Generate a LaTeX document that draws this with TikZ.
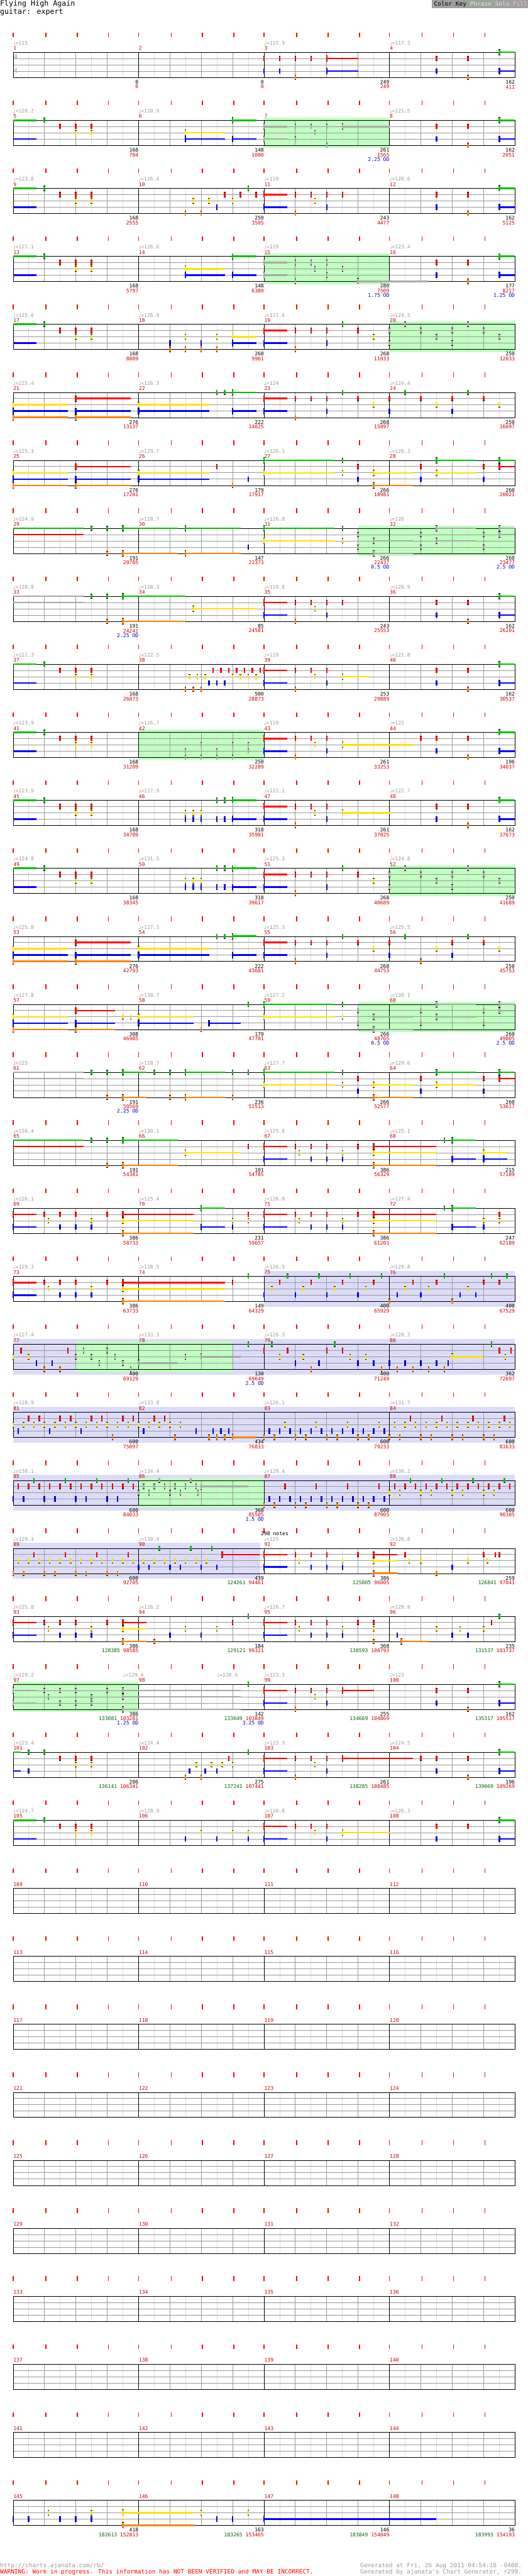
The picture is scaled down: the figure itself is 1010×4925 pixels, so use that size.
\documentclass[tikz,border=0pt]{standalone}
\usepackage{fontspec}
\newfontfamily\mono{DejaVu Sans Mono}
\newfontfamily\sym{DejaVu Sans}
\definecolor{lc0}{HTML}{00C000}
\definecolor{lc1}{HTML}{FF0000}
\definecolor{lc2}{HTML}{FFE000}
\definecolor{lc3}{HTML}{0000FF}
\definecolor{lc4}{HTML}{FF8000}
\definecolor{gn}{HTML}{A8A8A8}
\definecolor{mred}{HTML}{CC0000}
\definecolor{tgrey}{HTML}{999999}
\definecolor{odblue}{HTML}{0000CC}
\definecolor{dg}{HTML}{006600}
\definecolor{gl}{HTML}{DDDDDD}
\definecolor{gd}{HTML}{999999}
\definecolor{phr}{HTML}{C0FFC0}
\definecolor{solo}{HTML}{DCDCFA}
\definecolor{fillc}{HTML}{FFC0C0}
\definecolor{keybg}{HTML}{A0A0A0}
\newcommand\lab{\mono\fontsize{9.7}{10}\selectfont}
\tikzset{
 mn/.style={anchor=west, inner sep=0, text=mred, font=\lab},
 tp/.style={anchor=west, inner sep=0, text=tgrey, font=\lab},
 bn/.style={anchor=east, inner sep=0, text=black, font=\lab},
 rn/.style={anchor=east, inner sep=0, text=mred, font=\lab},
 odlab/.style={anchor=east, inner sep=0, text=odblue, font=\lab},
 gridlt/.style={draw=gl, line width=1},
 griddk/.style={draw=gd, line width=1},
 btick/.style={draw=red, line width=2},
 rowat/.style={shift={(25,{100+130*(#1)})}},
}
\newcommand\Nc[1]{lc#1}
\newcommand\Ncg[1]{gn}
\newcommand\Nh[2]{\edef\cc{\Nc{#2}}%
 \fill[black] ({60*(#1)-1.5},{12*(#2)-5}) rectangle ({60*(#1)+1.5},{12*(#2)+5});
 \fill[fill=\cc] ({60*(#1)-1.5},{12*(#2)-4}) rectangle ({60*(#1)+1.5},{12*(#2)+4});}
\newcommand\Sh[3]{\edef\cc{\Nc{#2}}%
 \fill[fill=\cc] ({60*(#1)},{12*(#2)-1.5}) rectangle ({60*(#3)},{12*(#2)+1.5});
 \fill[black] ({60*(#1)-1.5},{12*(#2)-6}) rectangle ({60*(#1)+1.5},{12*(#2)+6});
 \fill[fill=\cc] ({60*(#1)-1.5},{12*(#2)-5}) rectangle ({60*(#1)+1.5},{12*(#2)+5});}
\newcommand\Th[3]{\edef\cc{\Nc{#2}}%
 \fill[fill=\cc] ({60*(#1)},{12*(#2)-1.5}) rectangle ({60*(#3)},{12*(#2)+1.5});}
\newcommand\Nt[1]{\foreach \b/\l in {#1}{\Nh{\b}{\l}}}
\newcommand\St[1]{\foreach \b/\l/\e in {#1}{\Sh{\b}{\l}{\e}}}
\newcommand\Tl[1]{\foreach \b/\l/\e in {#1}{\Th{\b}{\l}{\e}}}
\newcommand\Gy[1]{{\let\Nc\Ncg #1}}
\newcommand\Phr[2]{\fill[phr] ({60*(#1)},-5) rectangle ({60*(#2)},53);}
\newcommand\Solo[2]{\fill[solo] ({60*(#1)},-10) rectangle ({60*(#2)},58);}
\newcommand\Gn[1]{\textcolor{dg}{#1}}
\newcommand\Grid{%
 \foreach \i in {1,3,...,31} \draw[gridlt] ({30*\i},0) -- ({30*\i},48);
 \foreach \i in {1,2,3,5,6,7,9,10,11,13,14,15} \draw[griddk] ({60*\i},0) -- ({60*\i},48);
 \foreach \l in {1,2,3} \draw[griddk] (0,{12*\l}) -- (960,{12*\l});
 \foreach \m in {1,2,3} \draw[black] ({240*\m},0) -- ({240*\m},48);
 \draw[black] (0,0) rectangle (960,48);
 \foreach \m in {0,...,3}{\foreach \o in {0,62.5,122.5,182.5}{\draw[btick] ({240*\m+\o},-38) -- ({240*\m+\o},-29);}}}
\newcommand\Mz[5]{%
 \node[mn] at ({240*(#1)+0.5},-7.5) {#2};
 \if\relax\detokenize{#3}\relax\else\node[tp] at ({240*(#1)},-17.5) {{\sym ♩}=#3};\fi
 \node[bn] at ({240*(#1)+240},57) {#4};
 \node[rn] at ({240*(#1)+240},66) {#5};}
\newcommand\Od[2]{\node[odlab] at ({240*(#1)+240},74.5) {#2 OD};}
% patterns
\newcommand\pA[1]{\Tl{#1/0/#1+.75, #1/3/#1+.75}\Nt{#1+1/0, #1+1.5/1, #1+2/1, #1+2.5/1, #1+2/2, #1+2.5/2}}
\newcommand\pB[1]{\St{#1+1.5/2/#1+2.75, #1+1.5/3/#1+2.75, #1+3/0/#1+3.75, #1+3/3/#1+3.75}}
\newcommand\pC[1]{\St{#1/1/#1+.75, #1/3/#1+.75}\Nt{#1+1/1, #1+1.5/1, #1+2/1, #1+2.5/1, #1+1.625/2, #1+2/3, #1+1/4}}
\newcommand\pE[1]{\Nt{#1+1.5/1, #1+2.5/1, #1+1.5/3, #1+2.5/4}\St{#1+3.5/0/#1+4, #1+3.5/3/#1+4}}
\newcommand\pF[1]{\St{#1/1/#1+.75, #1/3/#1+.75}\Nt{#1+1/1, #1+1.5/1, #1+2/1, #1+3/1, #1+2.5/0, #1+3.5/2, #1+2/3, #1+1/4}}
\newcommand\pD[1]{\Nt{#1+.5/0, #1+2.5/0, #1/1, #1+1/1, #1+2/1, #1+3/1, #1+1.5/2, #1+3.5/2, #1/3, #1+2/3}}
\newcommand\pH[1]{\St{#1/2/#1+1.75, #1/3/#1+1.75, #1/4/#1+1.75, #1+2/1/#1+3.75, #1+2/3/#1+3.75, #1+2/4/#1+3.75}}
\newcommand\pI[1]{\St{#1/2/#1+2.25, #1/3/#1+2.25, #1+3/0/#1+3.75, #1+3/3/#1+3.75}\Nt{#1+2.5/0, #1+2.75/0}}
\newcommand\pK[1]{\Nt{#1/1, #1/3, #1+2/1, #1+2/3, #1+4/1, #1+4/3}\St{#1+.5/2/#1+1.75, #1+.5/4/#1+1.75, #1+2.5/0/#1+3.75, #1+2.5/2/#1+3.75, #1+4.5/0/#1+5, #1+4.5/1/#1+5}}
\newcommand\pJ[1]{\St{#1/0/#1+2.25, #1/2/#1+2.25}\Nt{#1+2.5/0, #1+2.5/2}\pK{#1+3}}
\newcommand\pL[1]{\Nt{#1+1.5/2, #1+1.75/2, #1+2/2, #1+1.5/3, #1+1.75/3, #1+2/3, #1+2.5/3, #1+2.75/3, #1+2.5/0, #1+2.75/0}\St{#1+3/0/#1+3.75, #1+3/3/#1+3.75}}
\newcommand\pM[1]{\St{#1/1/#1+.75, #1/3/#1+.75}\Nt{#1+1/1, #1+1.5/1, #1+2/1, #1+3/1, #1+1.125/2, #1+2.5/2, #1+1.5/3, #1+2/3, #1+2.5/3}}
\begin{document}
\begin{tikzpicture}[x=1pt,y=-1pt]
\useasboundingbox (0,0) rectangle (1010,4925);
\fill[white] (0,0) rectangle (1010,4925);
% header
\node[anchor=west, inner sep=0, font=\mono\fontsize{14}{14}\selectfont] (title) at (0,8) {Flying High Again};
\node[anchor=west, inner sep=0, font=\mono\fontsize{14}{14}\selectfont] (inst) at (0,23) {guitar: expert};
\fill[keybg] (826,0) rectangle (1010,16);
\node[anchor=east, inner sep=0, font=\mono\fontsize{11.4}{12}\selectfont] (key) at (1009,8) {Color Key \textcolor{phr}{Phrase} \textcolor{solo}{Solo} \textcolor{fillc}{Fill}};
% row 0
\begin{scope}[rowat=0]
\Grid
\node[inner sep=0, text=tgrey, font=\mono\fontsize{13}{13}\selectfont] (ts1) at (5,9) {4};
\node[inner sep=0, text=tgrey, font=\mono\fontsize{13}{13}\selectfont] (ts2) at (5,35) {4};
\St{10/1/11, 10/3/11, 15.5/0/16, 15.5/3/16}
\Nt{8/1, 8.5/1, 9/1, 9.5/1, 8/3, 8.5/3, 9/4, 13.5/1, 14.5/1, 13.5/3, 14.5/4}
\Mz{0}{1}{115}{0}{0}\Mz{1}{2}{}{0}{0}\Mz{2}{3}{115.9}{249}{249}\Mz{3}{4}{117.3}{162}{411}
\end{scope}
% row 1
\begin{scope}[rowat=1]
\Phr{8}{12}\Grid
\pA{0}\pB{4}
\Gy{\St{8/1/8.75, 8/3/8.75, 10.5/1/12}\Nt{9/1, 9.5/1, 10/1, 9.625/2, 9/3, 10/4}}
\pE{12}
\Mz{0}{5}{120.2}{168}{704}\Mz{1}{6}{120.9}{148}{1000}\Mz{2}{7}{}{261}{1565}\Mz{3}{8}{121.5}{162}{2051}\Od{2}{2.25}
\end{scope}
% row 2
\begin{scope}[rowat=2]
\Grid
\pA{0}
\Nt{5.5/4, 6/4, 5.75/2, 6.25/2, 7/2, 6.75/1, 7.25/1, 7.75/1, 6.5/3, 7.5/0}
\pC{8}\pE{12}
\Mz{0}{9}{123.8}{168}{2555}\Mz{1}{10}{126.4}{250}{3505}\Mz{2}{11}{119}{243}{4477}\Mz{3}{12}{120.6}{162}{5125}
\end{scope}
% row 3
\begin{scope}[rowat=3]
\Phr{8}{12}\Grid
\pA{0}\pB{4}
\Gy{\St{8/1/8.75, 8/3/8.75, 11/4/13.25}\Nt{9/1, 9.5/1, 10/1, 9.625/2, 10.5/2, 10/3, 9/4}}
\pE{12}
\Mz{0}{13}{121.1}{168}{5797}\Mz{1}{14}{126.6}{148}{6389}\Mz{2}{15}{119}{280}{7509}\Mz{3}{16}{123.4}{177}{8217}\Od{2}{1.75}\Od{3}{1.25}
\end{scope}
% row 4
\begin{scope}[rowat=4]
\Phr{12}{16}\Grid
\pA{0}
\Nt{5/3, 6/3, 5/4, 5.5/4, 6/4, 6.5/4, 5.5/2, 6.5/2}\St{7/2/7.75, 7/3/7.75}
\pF{8}\Gy{\pD{12}}
\Mz{0}{17}{125.6}{168}{8889}\Mz{1}{18}{126.9}{268}{9961}\Mz{2}{19}{121.6}{268}{11033}\Mz{3}{20}{124.5}{250}{12033}
\end{scope}
% row 5
\begin{scope}[rowat=5]
\Grid
\pH{0}\pI{4}\pF{8}\pD{12}
\Mz{0}{21}{125.4}{276}{13137}\Mz{1}{22}{126.3}{222}{14025}\Mz{2}{23}{124}{268}{15097}\Mz{3}{24}{124.4}{250}{16097}
\end{scope}
% row 6
\begin{scope}[rowat=6]
\Grid
\pH{0}\St{4/2/6.25, 4/3/6.25}\Nt{6.5/1, 7/4, 7.5/3}\pJ{8}
\Mz{0}{25}{125.3}{276}{17201}\Mz{1}{26}{129.7}{179}{17917}\Mz{2}{27}{126.1}{266}{18981}\Mz{3}{28}{126.3}{260}{20021}
\end{scope}
% row 7
\begin{scope}[rowat=7]
\Phr{11}{16}\Grid
\Tl{0/0/2.25, 0/1/2.25}\Nt{2.5/0, 3/0, 3/4}\St{3.5/0/5.25, 3.5/4/5.25}
\St{5.5/0/7.25, 5.5/4/7.25}\Nt{7.5/3}
\St{8/0/10.25, 8/2/10.25}\Nt{10.5/0, 10.5/2}\Gy{\pK{11}}
\Mz{0}{29}{124.9}{191}{20785}\Mz{1}{30}{128.7}{147}{21373}\Mz{2}{31}{126.8}{266}{22437}\Mz{3}{32}{126}{260}{23477}\Od{2}{0.5}\Od{3}{2.5}
\end{scope}
% row 8
\begin{scope}[rowat=8]
\Grid
\Gy{\Tl{0/0/2.25, 0/1/2.25}}\Nt{2.5/0, 3/0, 3/4}\St{3.5/0/5.5, 3.5/4/5.5}
\St{5.75/2/7.75}\pC{8}\pE{12}
\Mz{0}{33}{128.8}{191}{24241}\Mz{1}{34}{128.3}{85}{24581}\Mz{2}{35}{119.8}{243}{25553}\Mz{3}{36}{120.9}{162}{26201}\Od{0}{2.25}
\end{scope}
% row 9
\begin{scope}[rowat=9]
\Grid
\pA{0}
\Nt{5.5/4, 5.75/4, 6/4, 5.625/2, 5.875/2, 6.125/2, 6.25/3, 6.5/3, 6.75/3, 6.375/1, 6.625/1, 6.875/1, 7.125/1, 7.375/1, 7.625/1, 7.875/1, 7/2, 7.25/2, 7.5/2, 7.75/2}
\St{8/1/8.75, 8/3/8.75, 10.5/2/11.375}\Nt{9/1, 9.5/1, 10/1, 9.625/2, 10/3, 9/4}
\pE{12}
\Mz{0}{37}{122.3}{168}{26873}\Mz{1}{38}{122.5}{500}{28873}\Mz{2}{39}{119}{253}{29889}\Mz{3}{40}{121.8}{162}{30537}
\end{scope}
% row 10
\begin{scope}[rowat=10]
\Phr{4}{8}\Grid
\pA{0}
\Gy{\Nt{6/2, 7/2, 7.5/2, 5.5/3, 6.5/3, 7.5/3, 5.5/4, 6/4, 6.5/4, 7/4}}
\St{8/1/8.75, 8/3/8.75, 10.5/2/12.75}\Nt{9/1, 9.5/1, 10/1, 9.625/2, 10/3, 9/4}
\Nt{13/1, 13.5/1, 14.5/1, 13.5/3, 14.5/4}\St{15.5/0/16, 15.5/3/16}
\Mz{0}{41}{123.9}{168}{31209}\Mz{1}{42}{126.7}{250}{32209}\Mz{2}{43}{119}{261}{33253}\Mz{3}{44}{122}{196}{34037}
\end{scope}
% row 11
\begin{scope}[rowat=11]
\Grid
\pA{0}\pL{4}
\St{8/1/8.75, 8/3/8.75, 10.5/2/12}\Nt{9/1, 9.5/1, 10/1, 9.625/2, 10/3, 9/4}
\pE{12}
\Mz{0}{45}{123.9}{168}{34709}\Mz{1}{46}{127.9}{318}{35981}\Mz{2}{47}{122.1}{261}{37025}\Mz{3}{48}{122.7}{162}{37673}
\end{scope}
% row 12
\begin{scope}[rowat=12]
\Phr{12}{16}\Grid
\pA{0}\pL{4}\pF{8}\Gy{\pD{12}}
\Mz{0}{49}{124.8}{168}{38345}\Mz{1}{50}{131.5}{318}{39617}\Mz{2}{51}{125.3}{268}{40689}\Mz{3}{52}{124.8}{250}{41689}
\end{scope}
% row 13
\begin{scope}[rowat=13]
\Grid
\pH{0}\pI{4}\pF{8}
\Nt{12.5/0, 14.5/0, 12/1, 14/1, 15/1, 13.5/2, 15.5/2, 12/3, 14/3, 13/4}
\Mz{0}{53}{125.8}{276}{42793}\Mz{1}{54}{127.1}{222}{43681}\Mz{2}{55}{125.3}{268}{44753}\Mz{3}{56}{125.5}{250}{45753}
\end{scope}
% row 14
\begin{scope}[rowat=14]
\Phr{11}{16}\Grid
\St{0/2/1.75, 0/3/1.75, 0/4/1.75, 2/1/3.25, 2/3/3.25, 2/4/3.25}\Nt{3.5/2, 3.75/2}
\St{4/2/5.75, 4/3/5.75, 6.25/3/7.25}\Nt{6/4, 7.5/0}
\St{8/0/10.25, 8/2/10.25}\Nt{10.5/0, 10.5/2}\Gy{\pK{11}}
\Mz{0}{57}{127.8}{308}{46985}\Mz{1}{58}{130.7}{179}{47701}\Mz{2}{59}{127.2}{266}{48765}\Mz{3}{60}{130.1}{260}{49805}\Od{2}{0.5}\Od{3}{2.5}
\end{scope}
% row 15
\begin{scope}[rowat=15]
\Grid
\Gy{\Tl{0/0/2.25, 0/1/2.25}}
\Nt{2.5/0, 3/0, 3/4, 4.5/0, 5/0, 5/4, 7/0, 7/4, 7.5/0}\St{3.5/0/4.25, 3.5/4/4.25, 5.5/0/6.75, 5.5/4/6.75}
\pJ{8}
\Mz{0}{61}{125}{191}{50569}\Mz{1}{62}{128.7}{236}{51513}\Mz{2}{63}{127.7}{266}{52577}\Mz{3}{64}{129.6}{260}{53617}\Od{0}{2.25}
\end{scope}
% row 16
\begin{scope}[rowat=16]
\Grid
\Tl{0/0/2.25, 0/1/2.25}\Nt{2.5/0, 3/0, 3/4}\St{3.5/0/5.25, 3.5/4/5.25}
\St{5.5/2/7.25}
\St{8/1/8.75, 8/3/8.75}\Nt{7.5/1, 9/1, 9.125/2, 9.5/1, 9.5/3, 10/1, 10/3, 10.5/2, 10.5/3, 11/1}
\St{11.5/1/13.5, 11.5/2/13.5, 11.5/4/13.5, 14/0/14.75, 14/3/14.75, 15/2/15.75, 15/3/15.75}\Nt{13.75/0}
\Mz{0}{65}{130.4}{191}{54381}\Mz{1}{66}{130.1}{101}{54785}\Mz{2}{67}{125.8}{386}{56329}\Mz{3}{68}{125.1}{215}{57189}
\end{scope}
% row 17
\begin{scope}[rowat=17]
\Grid
\pM{0}\St{3.5/1/5.75, 3.5/2/5.75, 3.5/4/5.75}
\St{6/0/6.75, 6/3/6.75}\Nt{7/2, 7/3, 7.5/1, 7.5/2}
\St{8/1/8.75, 8/3/8.75}\Nt{9/1, 9.5/1, 10/1, 11/1, 9.125/2, 10.5/2, 9.5/3, 10/3, 10.5/3}
\St{11.5/1/13.5, 11.5/2/13.5, 11.5/4/13.5, 14/0/14.75, 14/3/14.75}\Nt{13.75/0, 15/2, 15/3, 15.5/1, 15.5/2}
\Mz{0}{69}{126.1}{386}{58733}\Mz{1}{70}{125.4}{231}{59657}\Mz{2}{71}{126.8}{386}{61201}\Mz{3}{72}{127.4}{247}{62189}
\end{scope}
% row 18
\begin{scope}[rowat=18]
\Solo{8}{16}\Grid
\pM{0}\St{3.5/1/6.75, 3.5/2/6.75, 3.5/4/6.75}\Nt{7/1, 7.5/0}
\foreach \k in {0,...,3}{\Nt{8+\k/3, 8.25+\k/2, 8.5+\k/1, 8.75+\k/0}}
\Nt{12/4, 12.25/3, 12.5/2, 12.75/1, 13/3, 13.25/2, 13.5/1, 13.75/0, 14/4, 14.25/3, 14.5/2, 14.75/3, 15/1, 15.25/0, 15.5/1, 15.75/0}
\Mz{0}{73}{129.3}{386}{63733}\Mz{1}{74}{128.5}{149}{64329}\Mz{2}{75}{126.9}{400}{65929}\Mz{3}{76}{129.8}{400}{67529}
\end{scope}
% row 19
\begin{scope}[rowat=19]
\Solo{0}{16}\Phr{2}{7}\Grid
\Nt{0/2, 0.5/2, 0.25/1, 1.75/1, 0.75/3, 1.25/3, 1/4, 1.5/4}
\Gy{\Nt{2.25/1, 3/1, 2/2, 2.5/2, 3.25/2, 2.75/3, 3.5/3, 3.75/4, 5.5/2}\St{4/3/5.25, 6/2/7.25}}
\Nt{7.5/0}
\Nt{8/1, 8.25/0, 8.5/2, 8.75/1, 9/3, 9.25/2, 9.5/4, 9.75/3, 10/1, 10.25/0, 10.5/1, 10.75/2, 11/3, 11.25/2, 11.5/3, 11.75/4}
\Nt{12/3, 12.5/3, 13/3, 13.5/3, 13.875/3, 12.25/4, 12.75/4, 13.25/4, 13.75/4, 15.25/0, 15.5/1, 15.875/1, 15.7/2}\St{14/2/15}
\Mz{0}{77}{127.4}{400}{69129}\Mz{1}{78}{133.3}{130}{69649}\Mz{2}{79}{126.3}{400}{71249}\Mz{3}{80}{128.3}{362}{72697}\Od{1}{2.5}
\end{scope}
% row 20
\begin{scope}[rowat=20]
\Solo{0}{16}\Grid
\foreach \k in {0,...,16}{\Nt{\k*0.333333/2}}
\Nt{0.5/1, 0.8333/1, 1.5/1, 1.8333/1, 2.5/1, 2.8333/1, 3.5/1, 3.8333/1, 4.5/1, 4.8333/1, 0.1667/3, 1.1667/3, 2.1667/3, 4.1667/3, 3.1667/4, 5.1667/4, 5.8333/3, 6.375/3, 6.625/3, 6.875/3, 6.25/4, 6.5/4, 6.75/4}\St{7/4/7.75}
\foreach \j in {0,...,11}{\Nt{8.1667+\j*0.333333/3, 12.1667+\j*0.333333/2}}
\foreach \k in {0,...,3}{\Nt{8.6667+\k/2, 8+\k/4, 8.3333+\k/4, 12.6667+\k/1, 12+\k/4, 12.3333+\k/4}}
\Mz{0}{81}{128.9}{600}{75097}\Mz{1}{82}{133.8}{434}{76833}\Mz{2}{83}{126.1}{600}{79233}\Mz{3}{84}{131.7}{600}{81633}
\end{scope}
% row 21
\begin{scope}[rowat=21]
\Solo{0}{16}\Phr{4}{8}\Grid
\foreach \k in {0,...,3}{\Nt{0.6667+\k/0, \k/3, \k+0.3333/3}}
\foreach \j in {0,...,11}{\Nt{0.1667+\j*0.333333/1}}
\Gy{\Nt{4.6667/0, 5.6667/0, 4.1667/1, 4.5/1, 4.8333/1, 5.1667/1, 5.5/1, 5.8333/1, 4/2, 4.3333/2, 5/2, 5.3333/2, 5.9/2}\St{6/1/7.5}}
\foreach \k in {0,...,3}{\Nt{8.6667+\k/1, 8+\k/4, 8.3333+\k/4, 12.6667+\k/0, 12+\k/2, 12.3333+\k/2}}
\foreach \j in {0,...,11}{\Nt{8.1667+\j*0.333333/3, 12.1667+\j*0.333333/1}}
\Mz{0}{85}{130.1}{600}{84033}\Mz{1}{86}{134.4}{368}{85505}\Mz{2}{87}{129.4}{600}{87905}\Mz{3}{88}{130.2}{600}{90305}\Od{1}{1.5}
\end{scope}
% row 22
\begin{scope}[rowat=22]
\Solo{0}{7.875}\Grid
\foreach \k in {0,...,3}{\Nt{0.6667+\k/1, \k/4, \k+0.3333/4}}
\foreach \j in {0,...,11}{\Nt{0.1667+\j*0.333333/2}}
\Nt{4.6667/0, 5.6667/0, 6.3333/0, 4.1667/2, 4.5/2, 4.8333/2, 5.1667/2, 5.5/2, 5.8333/2, 6.1667/2, 4/3, 4.3333/3, 5/3, 5.3333/3, 6/3, 6.5/3}\St{6.6667/1/7.85}
\St{8/1/8.75, 8/3/8.75}\Nt{9/1, 9.5/1, 10/1, 11/1, 9.125/2, 10.5/2, 9.5/3, 10/3, 10.5/3}
\St{11.5/1/12.25, 11.5/2/12.25, 11.5/4/12.25}\Nt{12.5/1, 12.625/2, 13/2, 13.5/4, 14/3, 14.5/2, 15/1, 15.125/2, 15.375/1, 15.5/1}
\node[anchor=west, inner sep=0, font=\lab] (notes298) at (474,-28) {298 notes};
\Mz{0}{89}{129.3}{600}{92705}\Mz{1}{90}{130.4}{439}{\Gn{124261} 94461}\Mz{2}{91}{125}{386}{\Gn{125805} 96005}\Mz{3}{92}{126.8}{259}{\Gn{126841} 97041}
\end{scope}
% row 23
\begin{scope}[rowat=23]
\Grid
\pM{0}\St{3.5/1/4.25, 3.5/2/4.25, 3.5/4/4.25}\Nt{4.5/4, 5/3, 6/3, 5.5/2, 6.5/2, 7/1, 7.5/0}
\St{8/1/8.75, 8/3/8.75}\Nt{9/1, 9.5/1, 10/1, 11/1, 11.5/1, 9.125/2, 10.5/2, 11.5/2, 9.5/3, 10/3, 10.5/3, 11.5/4}
\St{12.375/4/13.25}\Nt{12.25/3, 13.5/2, 14.25/2, 14/3, 14.5/3, 15/2, 15.25/1, 15.5/0}
\Mz{0}{93}{125.8}{386}{\Gn{128385} 98585}\Mz{1}{94}{126.2}{184}{\Gn{129121} 99321}\Mz{2}{95}{126.7}{368}{\Gn{130593} 100793}\Mz{3}{96}{128.9}{235}{\Gn{131537} 101737}
\end{scope}
% row 24
\begin{scope}[rowat=24]
\Phr{0}{4}\Grid
\Gy{\pM{0}\St{3.5/1/7.25, 3.5/2/7.25, 3.5/4/7.25}}\Nt{7.5/0}
\St{8/1/8.75, 8/3/8.75, 10.5/1/11.5}\Nt{9/1, 9.5/1, 10/1, 9.625/2, 10/3, 9/4}
\pE{12}
\node[tp] (t974) at (210,-17.5) {{\sym ♩}=129.4};
\node[tp] (t975) at (390,-17.5) {{\sym ♩}=130.9};
\Mz{0}{97}{129.2}{386}{\Gn{133081} 103281}\Mz{1}{98}{}{142}{\Gn{133649} 103849}\Mz{2}{99}{123.3}{255}{\Gn{134669} 104869}\Mz{3}{100}{123}{162}{\Gn{135317} 105517}\Od{0}{1.25}\Od{1}{3.25}
\end{scope}
% row 25
\begin{scope}[rowat=25]
\Grid
\Tl{0/0/0.25, 0/3/0.25}\Nt{0.5/0, 1/0, 0.5/3, 1.5/1, 2/1, 2.5/1, 2/2, 2.5/2}
\Nt{5.5/4, 6/4, 5.625/3, 6.125/3, 6.5/3, 5.85/2, 6.33/2, 6.67/2, 7/2, 6.875/1, 7.5/0}
\St{8/1/8.75, 8/3/8.75, 10.5/1/12.75}\Nt{9/1, 9.5/1, 10/1, 9.625/2, 10/3, 9/4}
\Nt{13/1, 13.5/1, 14.5/1, 13.5/3, 14.5/4}\St{15.5/0/16, 15.5/3/16}
\Mz{0}{101}{123.4}{206}{\Gn{136141} 106341}\Mz{1}{102}{124.4}{275}{\Gn{137241} 107441}\Mz{2}{103}{123.3}{261}{\Gn{138285} 108485}\Mz{3}{104}{124.5}{196}{\Gn{139069} 109269}
\end{scope}
% row 26
\begin{scope}[rowat=26]
\Grid
\pA{0}\Nt{6/2, 7/2, 7.5/2, 5.5/3, 6.5/3, 7.5/3}
\St{8/1/8.75, 8/3/8.75, 10.5/2/12}\Nt{9/1, 9.5/1, 10/1, 9.625/2, 10/3}
\Nt{13.5/1, 14.5/1, 13.5/3}\St{15.5/0/16, 15.5/3/16}
\Mz{0}{105}{124.7}{}{}\Mz{1}{106}{128.9}{}{}\Mz{2}{107}{120.8}{}{}\Mz{3}{108}{126.3}{}{}
\end{scope}
% rows 27-35
\foreach \r in {27,...,35}{
\begin{scope}[rowat=\r]
\Grid
\foreach \i in {0,...,3}{\pgfmathtruncatemacro\mm{4*\r+\i+1}\node[mn] at ({240*\i+0.5},-7.5) {\mm};}
\end{scope}}
% row 36
\begin{scope}[rowat=36]
\Grid
\Nt{1.125/2, 2.5/2, 6/2, 7.5/2, 0/3, 0.5/3, 1.5/3, 2/3, 2.5/3, 6.5/3, 7/3}\St{3.5/2/5.75, 3.5/4/5.75, 8/3/13.5}
\Mz{0}{145}{}{418}{\Gn{182613} 152813}\Mz{1}{146}{}{163}{\Gn{183265} 153465}\Mz{2}{147}{}{146}{\Gn{183849} 154049}\Mz{3}{148}{}{36}{\Gn{183993} 154193}
\end{scope}
% footer
\node[anchor=west, inner sep=0, text=tgrey, font=\mono\fontsize{11.4}{12}\selectfont] (url) at (0,4905) {http://charts.ajanata.com/rb/};
\node[anchor=west, inner sep=0, text=red, font=\mono\fontsize{11.4}{12}\selectfont] (warn) at (0,4918) {WARNING: Work in progress. This information has NOT BEEN VERIFIED and MAY BE INCORRECT.};
\node[anchor=west, inner sep=0, text=tgrey, font=\mono\fontsize{11.4}{12}\selectfont] (gen1) at (689,4905) {Generated at Fri, 26 Aug 2011 04:54:18 -0400.};
\node[anchor=west, inner sep=0, text=tgrey, font=\mono\fontsize{11.4}{12}\selectfont] (gen2) at (689,4918) {Generated by ajanata's Chart Generator, r299.};
\end{tikzpicture}
\end{document}
